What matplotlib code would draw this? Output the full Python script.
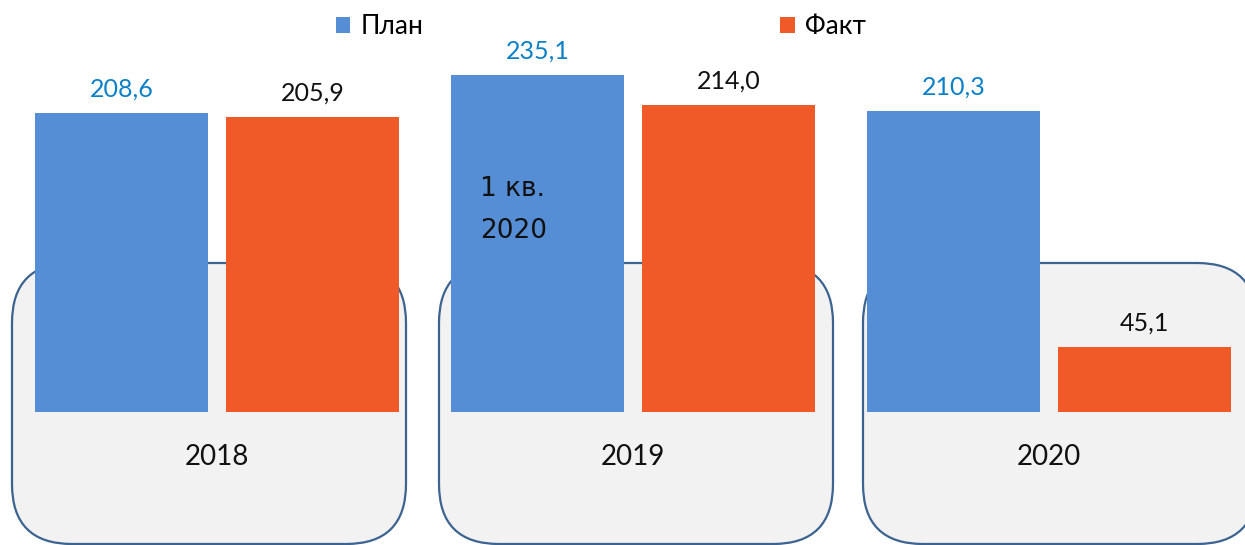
import matplotlib.pyplot as plt
from matplotlib.patches import FancyBboxPatch, Patch

years = ['2018', '2019', '2020']
plan = [208.6, 235.1, 210.3]
fact = [205.9, 214.0, 45.1]
plan_labels = ['208,6', '235,1', '210,3']
fact_labels = ['205,9', '214,0', '45,1']
series_names = ['План', 'Факт']
note = '1 кв.\n2020'

BLUE = '#558ED5'
ORANGE = '#F05A28'
LABEL_BLUE = '#0B80C8'

plt.rcParams['font.family'] = ['Lato', 'DejaVu Sans']

W, H = 1245, 545
fig = plt.figure(figsize=(W / 100, H / 100), dpi=100)
ax = fig.add_axes([0, 0, 1, 1])

# pixel layout -> data limits
px_per_x = 416.0
px_per_y = 1.433
x0_px, base_px = 217, 412
ax.set_xlim(-x0_px / px_per_x, (W - x0_px) / px_per_x)
ax.set_ylim(-(H - base_px) / px_per_y, base_px / px_per_y)
ax.axis('off')

# rounded background boxes
box_left_px = [12, 439, 863]
box_w = 394 / px_per_x
box_top = (base_px - 263) / px_per_y
box_bottom = (base_px - 544) / px_per_y
for lp in box_left_px:
    bx = (lp - x0_px) / px_per_x
    ax.add_patch(FancyBboxPatch(
        (bx, box_bottom), box_w, box_top - box_bottom,
        boxstyle=f'round,pad=0,rounding_size={60 / px_per_x}',
        mutation_aspect=px_per_x / px_per_y,
        facecolor='#F2F2F2', edgecolor='#3D6391', linewidth=1.6, zorder=1))

x = list(range(len(years)))
off = 95.5 / px_per_x
bw = 173 / px_per_x
b1 = ax.bar([i - off for i in x], plan, width=bw, color=BLUE, zorder=2)
b2 = ax.bar([i + off for i in x], fact, width=bw, color=ORANGE, zorder=2)

for rect, lab in zip(b1, plan_labels):
    ax.annotate(lab, (rect.get_x() + rect.get_width() / 2, rect.get_height()),
                xytext=(0, 9), textcoords='offset points', ha='center', va='bottom',
                fontsize=18, color=LABEL_BLUE, zorder=3)
for rect, lab in zip(b2, fact_labels):
    ax.annotate(lab, (rect.get_x() + rect.get_width() / 2, rect.get_height()),
                xytext=(0, 9), textcoords='offset points', ha='center', va='bottom',
                fontsize=18, color='#111111', zorder=3)

for i, y in zip(x, years):
    ax.text(i, -31.5, y, ha='center', va='center', fontsize=20, color='#111111', zorder=3)

ax.text(1 - off - 0.138, (base_px - 210) / px_per_y, note, ha='left', va='center',
        fontsize=19, color='#111111', family=['DejaVu Sans'], linespacing=1.75, zorder=3)

handles = [Patch(facecolor=BLUE), Patch(facecolor=ORANGE)]
fig.legend(handles, series_names, loc='center', bbox_to_anchor=(601 / W, 1 - 27 / H),
           ncol=2, frameon=False, fontsize=19, handlelength=0.55, handleheight=0.55,
           handletextpad=0.4, columnspacing=13.5, borderpad=0)

fig.savefig('out.png', dpi=100)
